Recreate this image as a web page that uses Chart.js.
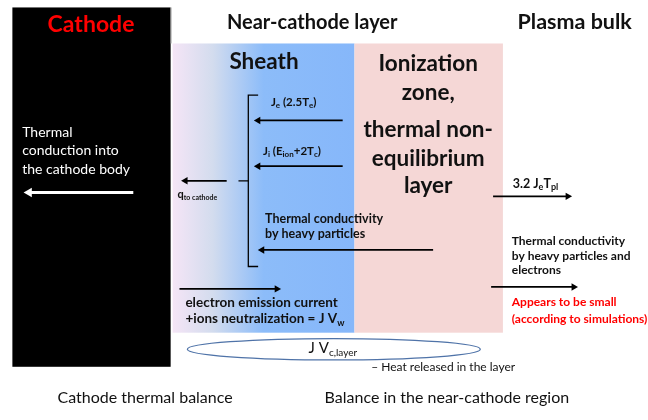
<!DOCTYPE html>
<html>
<head>
<meta charset="utf-8">
<script src="https://cdn.jsdelivr.net/npm/chart.js@4.4.1/dist/chart.umd.min.js"></script>
<style>
  html, body { margin: 0; padding: 0; background: #fff; }
  #wrap { width: 648px; height: 420px; }
</style>
</head>
<body>
<div id="wrap"><canvas id="balanceChart" width="648" height="420"></canvas></div>
<script>
// diagram units: x 0..648 left to right, y 0..420 top to bottom
const zoneNames = ["cathode", "sheath", "ionization"];
const zoneX = [[7, 168], [170, 355], [355, 506]];
const zoneY = [[2, 371], [39, 336], [39, 336]];

// arrows: [xStart, yStart, xEnd, yEnd]
const heatArrows = [
  [343, 118, 257, 118], // Je (2.5Te)
  [343, 165, 257, 165], // Ji (Eion+2Tc)
  [225, 180, 183, 180], // q to cathode
  [435, 251, 261, 251], // heavy particle conduction
  [177, 291, 276, 291], // emission current
  [496, 196, 572, 196], // 3.2 Je Tpl
  [494, 289, 578, 289], // conduction into bulk
];
const cathodeArrow = [130, 192, 24, 192];

// the brace gathering the sheath fluxes
const braceX = [257, 247, 247, 257];
const braceY = [92, 92, 268, 268];
const braceTick = [[237, 180], [247, 180]];

// layer heat ellipse: centre and half axes
const ellipse = [334, 353, 149, 11];

// labels: [text, x, y]; "_{..}" marks a subscript
const layerTitle = ["Near-cathode layer", 312, 17];
const bulkTitle = ["Plasma bulk", 579, 17];
const zoneTitles = [
  ["Sheath", 263, 58],
  ["Ionization", 430, 60],
  ["zone,", 430, 90],
  ["thermal non-", 430, 128],
  ["equilibrium", 430, 157],
  ["layer", 430, 185],
];
const cathodeTitle = ["Cathode", 87, 20];
const cathodeNote = [
  ["Thermal", 17, 130],
  ["conduction into", 17, 149],
  ["the cathode body", 17, 168],
];
const fluxLabels = [
  ["J_{e} (2.5T_{e})", 270, 99],
  ["J_{i} (E_{ion}+2T_{c})", 262, 150],
];
const bulkFlux = ["3.2 J_{e}T_{pl}", 516, 183];
const qLabel = ["q_{to cathode}", 175, 194];
const sheathNotes = [
  ["Thermal conductivity", 264, 219],
  ["by heavy particles", 264, 235],
];
const emissionNotes = [
  ["electron emission current", 183, 305],
  ["+ions neutralization = J V_{w}", 183, 322],
];
const bulkNotes = [
  ["Thermal conductivity", 515, 242],
  ["by heavy particles and", 515, 257],
  ["electrons", 515, 272],
];
const smallNotes = [
  ["Appears to be small", 515, 305],
  ["(according to simulations)", 515, 322],
];
const layerLabel = ["J V_{c,layer}", 333, 352];
const heatNote = ["– Heat released in the layer", 372, 371];
const captions = [
  ["Cathode thermal balance", 142, 403],
  ["Balance in the near-cathode region", 449, 403],
];

const FONT = "Lato, 'Open Sans', sans-serif";

function parseRich(text) {
  const parts = [];
  const re = /_\{([^}]*)\}/g;
  let last = 0, m;
  while ((m = re.exec(text)) !== null) {
    if (m.index > last) parts.push([text.slice(last, m.index), false]);
    parts.push([m[1], true]);
    last = re.lastIndex;
  }
  if (last < text.length) parts.push([text.slice(last), false]);
  return parts;
}

function drawRich(ctx, text, px, py, size, weight, color, align) {
  const parts = parseRich(text);
  const subSize = Math.round(size * 0.68);
  const fontFor = (sub) => weight + " " + (sub ? subSize : size) + "px " + FONT;
  let total = 0;
  parts.forEach(([s, sub]) => {
    ctx.font = fontFor(sub);
    total += ctx.measureText(s).width;
  });
  let x = px;
  if (align === "center") x = px - total / 2;
  ctx.fillStyle = color;
  ctx.textAlign = "left";
  ctx.textBaseline = "middle";
  parts.forEach(([s, sub]) => {
    ctx.font = fontFor(sub);
    ctx.fillText(s, x, sub ? py + size * 0.28 : py);
    x += ctx.measureText(s).width;
  });
}

const zonePlugin = {
  id: "zones",
  beforeDatasetsDraw(chart) {
    const { ctx, scales } = chart;
    const sx = scales.x, sy = scales.y;
    ctx.save();
    zoneNames.forEach((name, i) => {
      const x0 = sx.getPixelForValue(zoneX[i][0]);
      const x1 = sx.getPixelForValue(zoneX[i][1]);
      const y0 = sy.getPixelForValue(zoneY[i][0]);
      const y1 = sy.getPixelForValue(zoneY[i][1]);
      if (name === "cathode") {
        ctx.fillStyle = "#000000";
      } else if (name === "sheath") {
        const g = ctx.createLinearGradient(x0, 0, x1, 0);
        g.addColorStop(0, "#f5e5f6");
        g.addColorStop(0.22, "#d3dcee");
        g.addColorStop(0.5, "#8cbcf9");
        g.addColorStop(1, "#86b7fa");
        ctx.fillStyle = g;
      } else {
        ctx.fillStyle = "#f5d7d6";
      }
      ctx.fillRect(x0, y0, x1 - x0, y1 - y0);
    });
    // thin edge next to the cathode block
    ctx.strokeStyle = "#b0b0b0";
    ctx.lineWidth = 1;
    ctx.beginPath();
    ctx.moveTo(sx.getPixelForValue(zoneX[0][1]) + 0.5, sy.getPixelForValue(zoneY[0][0]));
    ctx.lineTo(sx.getPixelForValue(zoneX[0][1]) + 0.5, sy.getPixelForValue(zoneY[1][0]));
    ctx.stroke();
    // ellipse for heat released in the layer
    const cx = sx.getPixelForValue(ellipse[0]);
    const cy = sy.getPixelForValue(ellipse[1]);
    const rx = sx.getPixelForValue(ellipse[0] + ellipse[2]) - cx;
    const ry = sy.getPixelForValue(ellipse[1] + ellipse[3]) - cy;
    ctx.strokeStyle = "#4f73a8";
    ctx.lineWidth = 1.3;
    ctx.beginPath();
    ctx.ellipse(cx, cy, Math.abs(rx), Math.abs(ry), 0, 0, Math.PI * 2);
    ctx.stroke();
    ctx.restore();
  },
  afterDatasetsDraw(chart) {
    const { ctx, scales } = chart;
    const X = (v) => scales.x.getPixelForValue(v);
    const Y = (v) => scales.y.getPixelForValue(v);
    const put = (l, size, weight, color, align) =>
      drawRich(ctx, l[0], X(l[1]), Y(l[2]), size, weight, color, align);
    ctx.save();
    put(layerTitle, 20, "bold", "#111", "center");
    put(bulkTitle, 21.5, "bold", "#111", "center");
    zoneTitles.forEach((l) => put(l, 22.5, "bold", "#111", "center"));
    put(cathodeTitle, 23, "bold", "#ff0000", "center");
    cathodeNote.forEach((l) => put(l, 14, "normal", "#ffffff", "left"));
    fluxLabels.forEach((l) => put(l, 11.5, "bold", "#111", "left"));
    put(bulkFlux, 12.5, "bold", "#111", "left");
    put(qLabel, 11, "bold", "#111", "left");
    sheathNotes.forEach((l) => put(l, 12.5, "bold", "#111", "left"));
    emissionNotes.forEach((l) => put(l, 13.5, "bold", "#111", "left"));
    bulkNotes.forEach((l) => put(l, 12, "bold", "#111", "left"));
    smallNotes.forEach((l) => put(l, 12, "bold", "#ff0000", "left"));
    put(layerLabel, 15, "normal", "#111", "center");
    put(heatNote, 12, "normal", "#111", "left");
    captions.forEach((l) => put(l, 16, "normal", "#111", "center"));
    ctx.restore();
  },
};

function arrowDataset(a, color, width) {
  const pointingRight = a[2] > a[0];
  return {
    data: [{ x: a[0], y: a[1] }, { x: a[2], y: a[3] }],
    borderColor: color,
    backgroundColor: color,
    borderWidth: width,
    showLine: true,
    pointStyle: "triangle",
    pointRadius: [0, width + 2.5],
    pointRotation: [0, pointingRight ? 90 : -90],
    pointBorderWidth: 0,
    pointBackgroundColor: color,
  };
}

const datasets = heatArrows.map((a) => arrowDataset(a, "#000000", 1.8));
datasets.push(arrowDataset(cathodeArrow, "#ffffff", 3));
datasets.push({
  data: braceX.map((x, i) => ({ x: x, y: braceY[i] })),
  borderColor: "#000000",
  borderWidth: 1.3,
  showLine: true,
  pointRadius: 0,
});
datasets.push({
  data: braceTick.map(([x, y]) => ({ x, y })),
  borderColor: "#000000",
  borderWidth: 1.3,
  showLine: true,
  pointRadius: 0,
});

const balanceChart = new Chart(document.getElementById("balanceChart").getContext("2d"), {
  type: "scatter",
  data: { datasets: datasets },
  options: {
    responsive: false,
    animation: false,
    events: [],
    layout: { padding: 0 },
    plugins: { legend: { display: false }, tooltip: { enabled: false } },
    scales: {
      x: { type: "linear", min: 0, max: 648, display: false },
      y: { type: "linear", min: 0, max: 420, reverse: true, display: false },
    },
  },
  plugins: [zonePlugin],
});
</script>
</body>
</html>
